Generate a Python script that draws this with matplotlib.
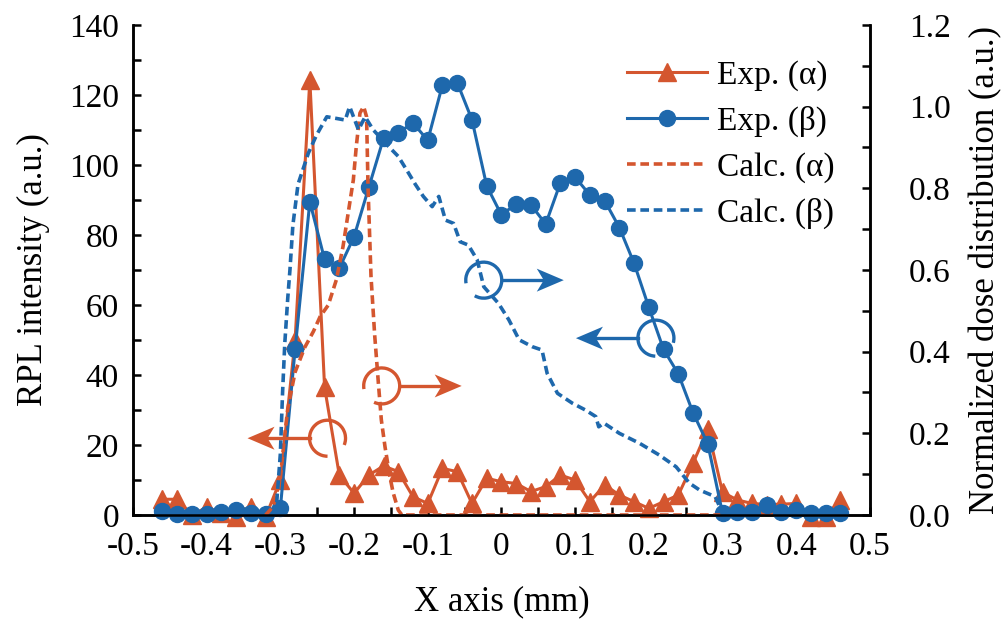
import matplotlib
matplotlib.use('Agg')
import matplotlib.pyplot as plt
from matplotlib.patches import Arc, Polygon
from matplotlib.lines import Line2D
from matplotlib.transforms import ScaledTranslation
from matplotlib.ticker import MultipleLocator, FormatStrFormatter

plt.rcParams['font.family'] = ['Liberation Serif', 'DejaVu Serif']
plt.rcParams['axes.unicode_minus'] = False

# measurement positions (mm)
x_exp = [-0.46, -0.44, -0.42, -0.40, -0.38, -0.36, -0.34, -0.32, -0.30, -0.28,
         -0.26, -0.24, -0.22, -0.20, -0.18, -0.16, -0.14, -0.12, -0.10, -0.08,
         -0.06, -0.04, -0.02, 0.00, 0.02, 0.04, 0.06, 0.08, 0.10, 0.12,
         0.14, 0.16, 0.18, 0.20, 0.22, 0.24, 0.26, 0.28, 0.30, 0.32,
         0.34, 0.36, 0.38, 0.40, 0.42, 0.44, 0.46]

# RPL intensity, alpha
exp_alpha = [4.5, 4.5, 0.0, 2.2, 0.5, -0.5, 2.2, -0.5, 10.0, 50.0,
             124.3, 36.5, 11.4, 6.2, 11.4, 14.0, 12.4, 5.2, 3.3, 13.3,
             12.4, 3.3, 10.5, 9.5, 9.0, 6.7, 8.1, 11.4, 10.0, 3.8,
             8.6, 5.7, 3.8, 1.9, 3.8, 5.7, 14.8, 24.5, 6.5, 4.3,
             3.3, 3.0, 3.1, 3.3, -0.5, -0.5, 4.3]

# RPL intensity, beta
exp_beta = [1.1, 0.2, 0.3, 0.3, 0.9, 1.5, 0.5, 0.3, 2.0, 47.3,
            89.5, 73.0, 70.5, 79.5, 93.6, 107.6, 109.2, 112.0, 107.0, 122.9,
            123.5, 112.9, 94.0, 85.7, 88.9, 88.6, 83.1, 94.9, 96.5, 91.4,
            89.8, 82.1, 71.9, 59.3, 47.3, 40.3, 29.2, 20.3, 0.5, 0.9,
            0.9, 2.9, 0.9, 1.4, 0.5, 0.5, 0.5]

# calculated dose, alpha
x_calc_alpha = [-0.32, -0.31, -0.30, -0.295, -0.29, -0.28, -0.267, -0.255,
                -0.246, -0.235, -0.224, -0.215, -0.208, -0.201, -0.197, -0.192,
                -0.187, -0.183, -0.181, -0.177, -0.172, -0.167, -0.163, -0.158,
                -0.152, -0.147, -0.14, -0.135, 0.30]
calc_alpha = [0.0, 0.02, 0.09, 0.18, 0.26, 0.35, 0.41, 0.45,
              0.486, 0.514, 0.576, 0.657, 0.739, 0.82, 0.902, 0.984,
              1.0, 0.975, 0.80, 0.584, 0.44, 0.323, 0.233, 0.167,
              0.10, 0.055, 0.012, 0.0, 0.0]

# calculated dose, beta
x_calc_beta = [-0.31, -0.305, -0.30, -0.297, -0.294, -0.29, -0.287, -0.283,
               -0.276, -0.262, -0.251, -0.237, -0.221, -0.212, -0.206, -0.194,
               -0.185, -0.174, -0.153, -0.14, -0.126, -0.117, -0.106, -0.094,
               -0.085, -0.076, -0.065, -0.056, -0.045, -0.033, -0.024, -0.004,
               0.010, 0.024, 0.042, 0.055, 0.062, 0.076, 0.096, 0.114, 0.128,
               0.132, 0.139, 0.160, 0.187, 0.214, 0.237, 0.255, 0.269, 0.290,
               0.297, 0.30]
calc_beta = [0.0, 0.03, 0.15, 0.30, 0.42, 0.53, 0.60, 0.71,
             0.81, 0.886, 0.93, 0.975, 0.97, 0.967, 1.0, 0.943,
             0.975, 0.943, 0.902, 0.878, 0.837, 0.81, 0.78, 0.755,
             0.78, 0.722, 0.714, 0.669, 0.661, 0.625, 0.559, 0.518,
             0.478, 0.429, 0.412, 0.404, 0.347, 0.298, 0.274, 0.257, 0.241,
             0.216, 0.225, 0.20, 0.176, 0.147, 0.118, 0.078, 0.061, 0.045,
             0.017, 0.0]

orange = '#D4562F'
blue = '#1E68AC'
dash = (0, (2.4, 1.3))

fig = plt.figure(figsize=(10.02, 6.22), dpi=100)
ax = fig.add_axes([0.1327, 0.172, 0.7355, 0.788])
ax2 = ax.twinx()

ax.plot(x_exp, exp_alpha, color=orange, lw=2.2, marker='^', ms=12.5,
        label='Exp. (α)', clip_on=False, zorder=3)
ax.plot(x_exp, exp_beta, color=blue, lw=2.2, marker='o', ms=11.5,
        label='Exp. (β)', clip_on=False, zorder=4)
ax2.plot(x_calc_alpha, calc_alpha, color=orange, lw=2.6, ls=dash,
         label='Calc. (α)')
ax2.plot(x_calc_beta, calc_beta, color=blue, lw=2.6, ls=dash,
         label='Calc. (β)')

ax.set_xlim(-0.5, 0.5)
ax.set_ylim(0, 140)
ax2.set_ylim(0, 1.2)

for a in (ax, ax2):
    for s in a.spines.values():
        s.set_linewidth(1.8)
    a.spines['top'].set_visible(False)
    a.tick_params(which='both', direction='in', length=6, width=1.8,
                  labelsize=24)

ax.xaxis.set_minor_locator(MultipleLocator(0.05))
ax.yaxis.set_major_locator(MultipleLocator(20))
ax.yaxis.set_minor_locator(MultipleLocator(10))
ax2.yaxis.set_major_locator(MultipleLocator(0.2))
ax2.yaxis.set_minor_locator(MultipleLocator(0.1))
ax.set_xticks([-0.5, -0.4, -0.3, -0.2, -0.1, 0, 0.1, 0.2, 0.3, 0.4, 0.5])
ax.set_xticklabels(['-0.5', '-0.4', '-0.3', '-0.2', '-0.1', '0',
                    '0.1', '0.2', '0.3', '0.4', '0.5'])
ax.tick_params(axis='x', pad=12)
ax.tick_params(axis='y', pad=10)
ax2.tick_params(axis='y', pad=28)
ax2.yaxis.set_major_formatter(FormatStrFormatter('%.1f'))

ax.set_xlabel('X axis (mm)', fontsize=25, labelpad=17)
ax.set_ylabel('RPL intensity (a.u.)', fontsize=25, labelpad=14)
ax2.set_ylabel('Normalized dose distribution (a.u.)', fontsize=25, labelpad=13)


def arc_arrow(cx, cy, direction, color, t1, t2):
    # open circle with an arrow pointing to the matching axis
    trans = fig.dpi_scale_trans + ScaledTranslation(cx, cy, ax2.transData)
    r = 0.18
    ax2.add_patch(Arc((0, 0), 2 * r, 2 * r, theta1=t1, theta2=t2,
                      transform=trans, color=color, lw=2.4, zorder=5))
    d = direction
    ax2.plot([d * r, d * 0.62], [0, 0], transform=trans, color=color,
             lw=2.4, zorder=5)
    head = [(d * 0.80, 0), (d * 0.53, 0.115), (d * 0.60, 0), (d * 0.53, -0.115)]
    ax2.add_patch(Polygon(head, closed=True, transform=trans, color=color,
                          lw=0, zorder=5))


arc_arrow(-0.236, 0.188, -1, orange, -22, 270)
arc_arrow(-0.1625, 0.316, 1, orange, 245, 550)
arc_arrow(-0.024, 0.575, 1, blue, 240, 550)
arc_arrow(0.2096, 0.433, -1, blue, -15, 268)

handles = [Line2D([], [], color=orange, lw=2.2, marker='^', ms=12.5),
           Line2D([], [], color=blue, lw=2.2, marker='o', ms=11.5),
           Line2D([], [], color=orange, lw=2.6, ls=dash),
           Line2D([], [], color=blue, lw=2.6, ls=dash)]
labels = ['Exp. (α)', 'Exp. (β)', 'Calc. (α)', 'Calc. (β)']
ax2.legend(handles, labels, loc='upper right', bbox_to_anchor=(0.97, 0.955),
           frameon=False, fontsize=24, handlelength=2.4, handletextpad=0.3,
           labelspacing=0.45, borderaxespad=0)

fig.savefig('out.png', dpi=100)
